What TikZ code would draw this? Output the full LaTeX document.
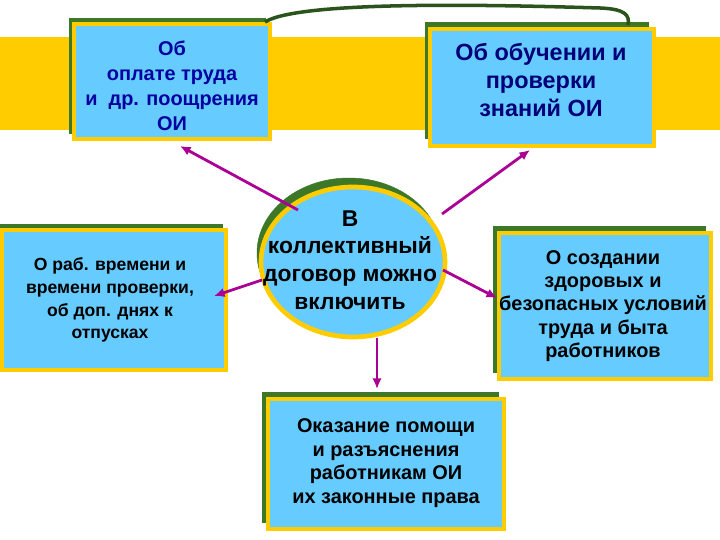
\documentclass[tikz,border=0pt]{standalone}
\usepackage{fontspec}
\setmainfont{Liberation Sans}
\usetikzlibrary{arrows.meta}
\definecolor{gold}{RGB}{255,204,0}
\definecolor{sky}{RGB}{102,204,255}
\definecolor{navy1}{RGB}{0,0,160}
\definecolor{navy2}{RGB}{0,0,120}
\definecolor{mag}{RGB}{170,0,150}
\definecolor{shg}{RGB}{60,120,40}
\begin{document}
\begin{tikzpicture}[x=0.03cm,y=-0.03cm,
  lbl/.style={align=center,text=black},
  shad/.style={fill=shg,draw=shg},
  boxy/.style={fill=sky,draw=gold,line width=4pt},
  arr/.style={draw=mag,line width=2.4pt,-{Latex[length=9pt,width=8pt]}}]
\useasboundingbox (0,0) rectangle (720,540);
\fill[white] (0,0) rectangle (720,540);
\fill[gold] (0,37) rectangle (720,130);
% box1
\fill[shad] (69,18) rectangle (265,133);
\draw[boxy] (74,24) rectangle (270,139);
\node[lbl,font=\bfseries\fontsize{17}{21.5}\selectfont,text=navy1] (b1) at (172,86) {Об\\оплате труда\\и\ \ др. поощрения\\ОИ};
% box2
\fill[shad] (425,22) rectangle (648,138);
\draw[boxy] (430,29) rectangle (654,146);
\node[lbl,font=\bfseries\fontsize{20}{24}\selectfont,text=navy2] (b2) at (541,80) {Об обучении и\\проверки\\знаний ОИ};
% box3
\fill[shad] (0,224) rectangle (222,364);
\draw[boxy] (2,230) rectangle (226,370);
\node[lbl,font=\bfseries\fontsize{15}{19.5}\selectfont] (b3) at (110,300) {О раб. времени и\\времени проверки,\\об доп. днях к\\отпусках};
% right box
\fill[shad] (493,226) rectangle (705,372);
\draw[boxy] (499,233) rectangle (711,379);
\node[lbl,font=\bfseries\fontsize{17}{20}\selectfont] (b4) at (603,306) {О создании\\здоровых и\\безопасных условий\\труда и быта\\работников};
% bottom box
\fill[shad] (262,392) rectangle (498,522);
\draw[boxy] (268,399) rectangle (504,529);
\node[lbl,font=\bfseries\fontsize{17}{20}\selectfont] (b5) at (386,463) {Оказание помощи\\и разъяснения\\работникам ОИ\\их законные права};
% ellipse
\fill[shad] (349,253) ellipse (92 and 75);
\draw[boxy] (353,262) ellipse (92 and 75);
\node[lbl,font=\bfseries\fontsize{19.5}{23.5}\selectfont] (c) at (350,260) {В\\коллективный\\договор можно\\включить};
% curve
\coordinate (p1) at (265,22);
\coordinate (p2) at (628,25);
\draw[shg!70!black,line width=3pt] (p1) .. controls (300,0) and (500,5) .. (600,8) .. controls (625,9) and (630,15) .. (p2);
% arrows
\coordinate (c1) at (298,210); \coordinate (t1) at (180,146);
\coordinate (c2) at (442,214); \coordinate (t2) at (530,150);
\coordinate (c3) at (262,280); \coordinate (t3) at (214,296);
\coordinate (c4) at (443,270); \coordinate (t4) at (497,298);
\coordinate (c5) at (377,338); \coordinate (t5) at (377,389);
\draw[arr] (c1) -- (t1);
\draw[arr] (c2) -- (t2);
\draw[arr] (c3) -- (t3);
\draw[arr] (c4) -- (t4);
\draw[arr] (c5) -- (t5);
\end{tikzpicture}
\end{document}
